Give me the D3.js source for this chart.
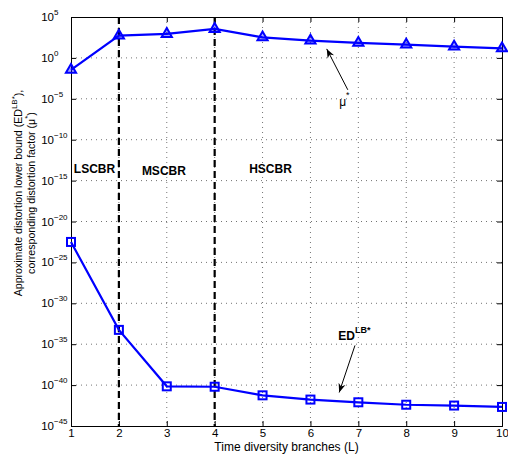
<!DOCTYPE html>
<html><head><meta charset="utf-8">
<script src="https://cdn.jsdelivr.net/npm/d3@7"></script>
<style>body{margin:0;background:#fff}svg{display:block;font-family:"Liberation Sans",Arial,sans-serif}</style>
</head><body><svg id="c" width="508" height="457"></svg>
<script>
const branches = [1,2,3,4,5,6,7,8,9,10];
// values given as log10 exponents
const muExp = [-1.47, 2.73, 2.93, 3.54, 2.52, 2.11, 1.83, 1.63, 1.38, 1.17];
const edExp = [-22.5, -33.25, -40.15, -40.2, -41.25, -41.77, -42.1, -42.4, -42.5, -42.67];
const yTickExps = [5,0,-5,-10,-15,-20,-25,-30,-35,-40,-45];
const regimeBounds = [2,4];
const regimes = [{name:"LSCBR", x:1.06, e:-14.1},{name:"MSCBR", x:2.48, e:-14.3},{name:"HSCBR", x:4.72, e:-14.1}];

const svg = d3.select("#c");
const L=71, R=502, T=17, B=426;
const x = d3.scaleLinear().domain([1,10]).range([L,R]);
const y = d3.scaleLog().domain([1e-45,1e5]).range([B,T]);
const yv = e => y(Math.pow(10,e));

// grid
const g = svg.append("g");
branches.slice(1,-1).forEach(b=>{
  g.append("line").attr("x1",x(b)).attr("x2",x(b)).attr("y1",T).attr("y2",B)
   .attr("stroke","#000").attr("stroke-opacity",0.55).attr("stroke-dasharray","1,4");
});
yTickExps.slice(1,-1).forEach(e=>{
  g.append("line").attr("x1",L).attr("x2",R).attr("y1",yv(e)).attr("y2",yv(e))
   .attr("stroke","#000").attr("stroke-opacity",0.55).attr("stroke-dasharray","1,4");
});

// axes
const xAx = svg.append("g").attr("transform",`translate(0,${B})`)
  .call(d3.axisBottom(x).tickValues(branches).tickSize(-5).tickPadding(3).tickFormat(d3.format("d")));
const xAxT = svg.append("g").attr("transform",`translate(0,${T})`)
  .call(d3.axisTop(x).tickValues(branches).tickSize(-5).tickFormat(""));
const yAx = svg.append("g").attr("transform",`translate(${L},0)`)
  .call(d3.axisLeft(y).tickValues(yTickExps.map(e=>Math.pow(10,e))).tickSize(-5).tickPadding(6).tickFormat(""));
const yAxR = svg.append("g").attr("transform",`translate(${R},0)`)
  .call(d3.axisRight(y).tickValues(yTickExps.map(e=>Math.pow(10,e))).tickSize(-5).tickFormat(""));
[xAx,xAxT,yAx,yAxR].forEach(a=>{a.selectAll("path").attr("stroke","#000");a.selectAll("line").attr("stroke","#000");});
xAx.selectAll("text").attr("font-size",11.5).attr("fill","#000").attr("font-family","Liberation Sans, Arial, sans-serif");

// y tick labels with superscripts ("10" right-aligned, exponent hanging after it)
yTickExps.forEach(e=>{
  svg.append("text").attr("x",54).attr("y",yv(e)+4).attr("text-anchor","end")
    .attr("font-size",11.5).attr("fill","#000").text("10");
  svg.append("text").attr("x",54).attr("y",yv(e)-2).attr("text-anchor","start")
    .attr("font-size",8).attr("fill","#000").text(e<0?"\u2212"+Math.abs(e):String(e));
});

// regime dashed lines
regimeBounds.forEach(b=>{
  svg.append("line").attr("x1",x(b)).attr("x2",x(b)).attr("y1",T).attr("y2",B)
    .attr("stroke","#000").attr("stroke-width",2.2).attr("stroke-dasharray","7,4");
});
regimes.forEach(r=>{
  svg.append("text").attr("x",x(r.x)).attr("y",yv(r.e)).attr("font-size",12).attr("font-weight","bold").attr("fill","#000").text(r.name);
});

// lines
const line = d3.line().x((d,i)=>x(branches[i])).y(d=>yv(d));
svg.append("path").attr("d",line(muExp)).attr("fill","none").attr("stroke","#0000ff").attr("stroke-width",2.2);
svg.append("path").attr("d",line(edExp)).attr("fill","none").attr("stroke","#0000ff").attr("stroke-width",2.2);
const tri = d3.symbol().type(d3.symbolTriangle).size(45);
svg.append("g").selectAll("path").data(muExp).join("path")
  .attr("transform",(d,i)=>`translate(${x(branches[i])},${yv(d)})`).attr("d",tri)
  .attr("fill","#0000ff").attr("fill-opacity",0.35).attr("stroke","#0000ff").attr("stroke-width",2);
svg.append("g").selectAll("rect").data(edExp).join("rect")
  .attr("x",(d,i)=>x(branches[i])-4).attr("y",d=>yv(d)-4).attr("width",8).attr("height",8)
  .attr("fill","none").attr("stroke","#0000ff").attr("stroke-width",2);

// annotations
const defs = svg.append("defs");
defs.append("marker").attr("id","ah").attr("viewBox","0 0 10 10").attr("refX",10).attr("refY",5)
  .attr("markerWidth",9).attr("markerHeight",9).attr("markerUnits","userSpaceOnUse").attr("orient","auto")
  .append("path").attr("d","M0,1 L10,5 L0,9 L3,5 Z").attr("fill","#000");
svg.append("line").attr("x1",x(6.78)).attr("y1",yv(-3.9)).attr("x2",x(6.34)).attr("y2",yv(1.1))
  .attr("stroke","#000").attr("stroke-width",1).attr("marker-end","url(#ah)");
const mt = svg.append("text").attr("x",x(6.6)).attr("y",yv(-5.9)).attr("font-size",12).attr("fill","#000");
mt.append("tspan").attr("fill","#000").text("\u03bc");
mt.append("tspan").attr("dy",-8).attr("font-size",9).attr("fill","#000").text("*");
svg.append("line").attr("x1",x(6.93)).attr("y1",yv(-35.15)).attr("x2",x(6.6)).attr("y2",yv(-40.9))
  .attr("stroke","#000").attr("stroke-width",1).attr("marker-end","url(#ah)");
const et = svg.append("text").attr("x",x(6.58)).attr("y",yv(-34.45)).attr("font-size",12).attr("font-weight","bold").attr("fill","#000");
et.append("tspan").text("ED");
et.append("tspan").attr("dy",-7).attr("font-size",9).text("LB*");

// axis titles
svg.append("text").attr("x",x(5.5)).attr("y",451).attr("text-anchor","middle").attr("font-size",12).attr("fill","#000").text("Time diversity branches (L)");
const yl = svg.append("g").attr("transform",`translate(22,193) rotate(-90)`);
const l1 = yl.append("text").attr("x",0).attr("y",0).attr("text-anchor","middle").attr("font-size",10.6).attr("fill","#000");
l1.append("tspan").text("Approximate distortion lower bound (ED");
l1.append("tspan").attr("dy",-5).attr("font-size",8).text("LB*");
l1.append("tspan").attr("dy",5).text("),");
const l2 = yl.append("text").attr("x",0).attr("y",13).attr("text-anchor","middle").attr("font-size",10.6).attr("fill","#000");
l2.append("tspan").text("corresponding distortion factor (\u03bc");
l2.append("tspan").attr("dy",-5).attr("font-size",8).text("*");
l2.append("tspan").attr("dy",5).text(")");
</script></body></html>
